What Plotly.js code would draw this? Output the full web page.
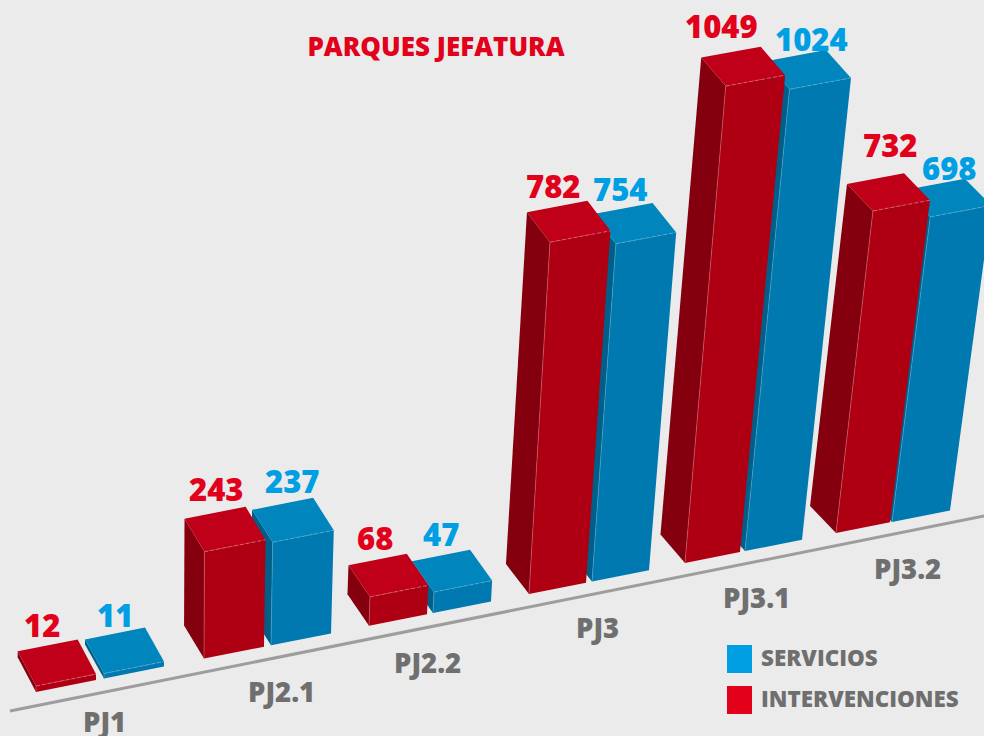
<!DOCTYPE html>
<html><head><meta charset="utf-8">
<script src="https://cdn.plot.ly/plotly-3.0.1.min.js"></script>
<style>html,body{margin:0;padding:0;background:#ebebeb}#c{width:984px;height:736px}</style>
</head><body><div id="c"></div>
<script>
// ---- data ----
const categories = ['PJ1','PJ2.1','PJ2.2','PJ3','PJ3.1','PJ3.2'];
const intervenciones = [12,243,68,782,1049,732];
const servicios = [11,237,47,754,1024,698];

// ---- oblique projection of the drawing (value -> page units) ----
const redBase = [36,204,369,529,685,836];
const blueBase = [104,271,433,592,745,892];
const redWidth = [60,60,58,57,55,54];
const blueWidth = [60,60,58,57,57,58];
const redScale = [0.5,0.44,0.426,0.45,0.4547,0.44];
const blueScale = [0.45,0.435,0.447,0.448,0.451,0.437];
const redLabelShift = [[-24,-55],[-19,-57],[-24,-53],[-27,-50],[-34,-55],[-11,-61]];
const blueLabelShift = [[-19,-53],[-11,-55],[-22,-52],[-26,-49],[-9,-45],[-11,-43]];
const catLabelPos = [[104,721],[281,691],[427,662],[597,627],[756,597],[907,568]];

const FONT = '"Open Sans", sans-serif';
const ground = u => 692 - 0.1987*(u-36);
const P = (u,v,k) => [u + Math.max(0,(u-180)/13000)*v, ground(u) - k*v];
const depth = u => [-18-0.0095*u, -35+0.0095*u];

const traces = [], annotations = [];
function poly(pts,color,name){
  traces.push({type:'scatter',mode:'lines',x:[...pts.map(p=>p[0]),pts[0][0]],y:[...pts.map(p=>p[1]),pts[0][1]],
    fill:'toself',fillcolor:color,line:{width:0,color:color},hoverinfo:'skip',showlegend:false,name:name});
}
function bar(u,w,v,k,c,name){
  const bl=P(u,0,k), br=P(u+w,0,k), tl=P(u,v,k), tr=P(u+w,v,k);
  const d=depth(u);
  const back=p=>[p[0]+d[0],p[1]+d[1]];
  poly([tl,back(tl),back(bl),bl],c.side,name);
  poly([bl,br,tr,tl],c.front,name);
  poly([tl,tr,back(tr),back(tl)],c.top,name);
  traces.push({type:'scatter',mode:'lines',x:[tl[0],tr[0]],y:[tl[1],tr[1]],line:{width:1,color:c.seam,dash:'4px,2px'},hoverinfo:'skip',showlegend:false});
  traces.push({type:'scatter',mode:'lines',x:[bl[0],tl[0]],y:[bl[1],tl[1]],line:{width:1,color:c.seam},opacity:0.6,hoverinfo:'skip',showlegend:false});
}
const redC={front:'#ae0012',top:'#c00018',side:'#85000e',seam:'#d0606c'};
const blueC={front:'#0078b0',top:'#0085bd',side:'#005f88',seam:'#4fa6cf'};

// ground line
traces.push({type:'scatter',mode:'lines',x:[10,984],y:[711,516],line:{color:'#9d9d9d',width:3},hoverinfo:'skip',showlegend:false});

categories.forEach((cat,i)=>{
  bar(blueBase[i],blueWidth[i],servicios[i],blueScale[i],blueC,'SERVICIOS');
  bar(redBase[i],redWidth[i],intervenciones[i],redScale[i],redC,'INTERVENCIONES');
  const a=P(blueBase[i]+blueWidth[i]/2,servicios[i],blueScale[i]);
  annotations.push({x:a[0],y:a[1],xshift:blueLabelShift[i][0],yshift:-blueLabelShift[i][1],text:String(servicios[i]),showarrow:false,
    xanchor:'center',yanchor:'middle',font:{family:FONT,size:31,weight:800,color:'#009fe3'}});
  const b=P(redBase[i]+redWidth[i]/2,intervenciones[i],redScale[i]);
  annotations.push({x:b[0],y:b[1],xshift:redLabelShift[i][0],yshift:-redLabelShift[i][1],text:String(intervenciones[i]),showarrow:false,
    xanchor:'center',yanchor:'middle',font:{family:FONT,size:31,weight:800,color:'#e2001a'}});
  annotations.push({x:catLabelPos[i][0],y:catLabelPos[i][1],text:cat,showarrow:false,xanchor:'center',yanchor:'middle',
    font:{family:FONT,size:27.5,weight:800,color:'#6f6f6f'}});
});

// legend
const legendNames = ['SERVICIOS','INTERVENCIONES'];
const legendColors = ['#009fe3','#e2001a'];
const legendTop = [645,686];
const shapes = legendNames.map((n,i)=>({type:'rect',xref:'x',yref:'y',x0:727,x1:752,y0:legendTop[i],y1:legendTop[i]+28,fillcolor:legendColors[i],line:{width:0}}));
legendNames.forEach((n,i)=>annotations.push({x:758.5,y:legendTop[i]+12.5,text:n,showarrow:false,xanchor:'left',yanchor:'middle',
  font:{family:FONT,size:22.4,weight:800,color:'#6f6f6f'}}));

Plotly.newPlot('c',traces,{
  width:984,height:736,margin:{l:0,r:0,t:0,b:0},
  paper_bgcolor:'#ebebeb',plot_bgcolor:'#ebebeb',showlegend:false,
  title:{text:'PARQUES JEFATURA',x:436/984,xref:'paper',xanchor:'center',y:1-47/736,yref:'paper',yanchor:'middle',
    font:{family:FONT,size:26,weight:800,color:'#e2001a'}},
  xaxis:{range:[0,984],visible:false,fixedrange:true},
  yaxis:{range:[736,0],visible:false,fixedrange:true},
  shapes:shapes,annotations:annotations
},{displayModeBar:false,staticPlot:true});
</script></body></html>
